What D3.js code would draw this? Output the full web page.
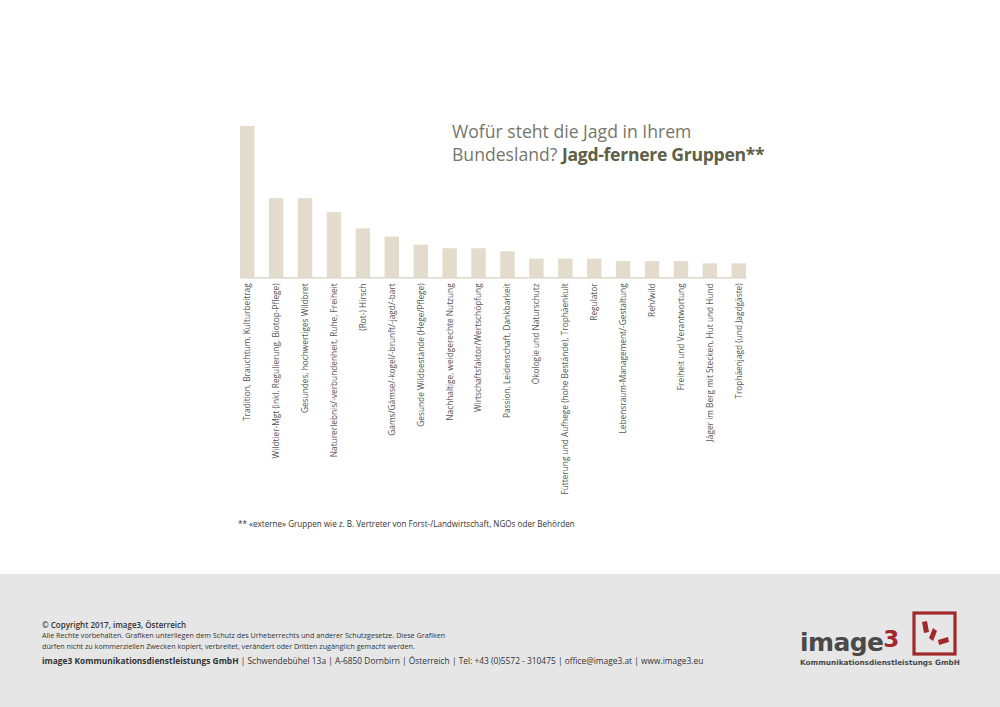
<!DOCTYPE html>
<html>
<head>
<meta charset="utf-8">
<script src="https://cdn.jsdelivr.net/npm/d3@7"></script>
<style>
  body { margin: 0; background: #fff; }
  svg { display: block; }
</style>
</head>
<body>
<div id="chart"></div>
<script>
// categories and values (approximate shares)
const categories = [
  "Tradition, Brauchtum, Kulturbeitrag",
  "Wildtier-Mgt (inkl. Regulierung, Biotop-Pflege)",
  "Gesundes, hochwertiges Wildbret",
  "Naturerlebnis/-verbundenheit, Ruhe, Freiheit",
  "(Rot-) Hirsch",
  "Gams/Gämse/-kogel/-brunft/-jagd/-bart",
  "Gesunde Wildbestände (Hege/Pflege)",
  "Nachhaltige, weidgerechte Nutzung",
  "Wirtschaftsfaktor/Wertschöpfung",
  "Passion, Leidenschaft, Dankbarkeit",
  "Ökologie und Naturschutz",
  "Fütterung und Aufhege (hohe Bestände), Trophäenkult",
  "Regulator",
  "Lebensraum-Management/-Gestaltung",
  "Reh/wild",
  "Freiheit und Verantwortung",
  "Jäger im Berg mit Stecken, Hut und Hund",
  "Trophäenjagd (und Jagdgäste)"
];
const values = [65, 34, 34, 28, 21, 17.5, 14, 12.5, 12.5, 11.2, 8, 8, 8, 7, 7, 7, 6, 6];

const titleLine1 = "Wofür steht die Jagd in Ihrem";
const titleLine2a = "Bundesland? ";
const titleLine2b = "Jagd-fernere Gruppen**";
const footnote = "** «externe» Gruppen wie z. B. Vertreter von Forst-/Landwirtschaft, NGOs oder Behörden";

const W = 1000, H = 707;
const barColor = "#e3dccd";

const svg = d3.select("#chart").append("svg")
  .attr("width", W).attr("height", H);

svg.append("rect").attr("width", W).attr("height", H).attr("fill", "#fff");

// scales
const x = d3.scaleBand()
  .domain(categories)
  .range([240, 746])
  .paddingInner(0.5)
  .paddingOuter(0);

const y = d3.scaleLinear()
  .domain([0, 65])
  .range([277.3, 126]);

// bars
svg.append("g").selectAll("rect")
  .data(values)
  .join("rect")
    .attr("x", (d, i) => x(categories[i]))
    .attr("y", d => y(d))
    .attr("width", x.bandwidth())
    .attr("height", d => y(0) - y(d))
    .attr("fill", barColor);

// x axis
const xAxis = svg.append("g")
  .attr("transform", `translate(0,${y(0)})`)
  .call(d3.axisBottom(x).tickSize(0).tickSizeOuter(0));
xAxis.select(".domain").attr("stroke", "#d6cfbf").attr("stroke-width", 1.2);
xAxis.selectAll("text")
  .attr("transform", "rotate(-90)")
  .attr("x", -6)
  .attr("y", 0)
  .attr("dy", "0.35em")
  .attr("text-anchor", "end")
  .attr("fill", "#555")
  .style("font-family", "Open Sans, sans-serif")
  .style("font-size", "8.3px");

// title
const title = svg.append("text")
  .attr("x", 452).attr("y", 138)
  .attr("fill", "#76766a")
  .style("font-family", "Open Sans, sans-serif")
  .style("font-size", "17.6px");
title.append("tspan").text(titleLine1);
const t2 = svg.append("text")
  .attr("x", 452).attr("y", 161)
  .attr("fill", "#76766a")
  .style("font-family", "Open Sans, sans-serif")
  .style("font-size", "17.6px");
t2.append("tspan").text(titleLine2a);
t2.append("tspan").attr("font-weight", "bold").attr("fill", "#5e6045")
  .attr("letter-spacing", "-0.3").text(titleLine2b);

// footnote
svg.append("text")
  .attr("x", 238).attr("y", 527)
  .attr("fill", "#333")
  .style("font-family", "Open Sans, sans-serif")
  .style("font-size", "8.1px")
  .text(footnote);

// footer band
svg.append("rect")
  .attr("x", 0).attr("y", 574).attr("width", W).attr("height", H - 574)
  .attr("fill", "#e6e6e6");

const foot = svg.append("g").attr("fill", "#333")
  .style("font-family", "Open Sans, sans-serif");
foot.append("text").attr("x", 42).attr("y", 628)
  .style("font-size", "8px").attr("font-weight", "600")
  .text("© Copyright 2017, image3, Österreich");
foot.append("text").attr("x", 42).attr("y", 638)
  .style("font-size", "7.2px")
  .text("Alle Rechte vorbehalten. Grafiken unterliegen dem Schutz des Urheberrechts und anderer Schutzgesetze. Diese Grafiken");
foot.append("text").attr("x", 42).attr("y", 649)
  .style("font-size", "7.2px")
  .text("dürfen nicht zu kommerziellen Zwecken kopiert, verbreitet, verändert oder Dritten zugänglich gemacht werden.");
const addr = foot.append("text").attr("x", 42).attr("y", 664)
  .style("font-size", "8.4px");
addr.append("tspan").attr("font-weight", "bold").text("image3 Kommunikationsdienstleistungs GmbH");
addr.append("tspan").text(" | Schwendebühel 13a  |  A-6850 Dornbirn  |  Österreich  |  Tel: +43 (0)5572 - 310475  |  office@image3.at  |  www.image3.eu");

// logo
const logo = svg.append("g");
const word = logo.append("text")
  .attr("x", 800).attr("y", 651)
  .style("font-family", "DejaVu Sans, sans-serif")
  .style("font-size", "25px")
  .attr("font-weight", "bold")
  .attr("fill", "#4a4a4a")
  .attr("letter-spacing", "-0.6");
word.append("tspan").text("image");
word.append("tspan").attr("fill", "#a1282b").attr("dy", -4).style("font-size", "23px").text("3");
logo.append("text")
  .attr("x", 800).attr("y", 665)
  .style("font-family", "DejaVu Sans, sans-serif")
  .style("font-size", "7.3px")
  .attr("font-weight", "bold")
  .attr("fill", "#4a4a4a")
  .text("Kommunikationsdienstleistungs GmbH");
logo.append("rect")
  .attr("x", 914).attr("y", 613).attr("width", 41).attr("height", 41)
  .attr("fill", "none").attr("stroke", "#a1282b").attr("stroke-width", 3.2);
const rays = [
  [[922, 622], [927, 621], [929, 632], [924, 633]],
  [[933, 628], [937, 631], [933, 641], [929, 638]],
  [[938, 640], [948, 637], [949, 642], [939, 645]]
];
logo.selectAll("polygon").data(rays).join("polygon")
  .attr("points", d => d.map(p => p.join(",")).join(" "))
  .attr("fill", "#a1282b");
</script>
</body>
</html>
